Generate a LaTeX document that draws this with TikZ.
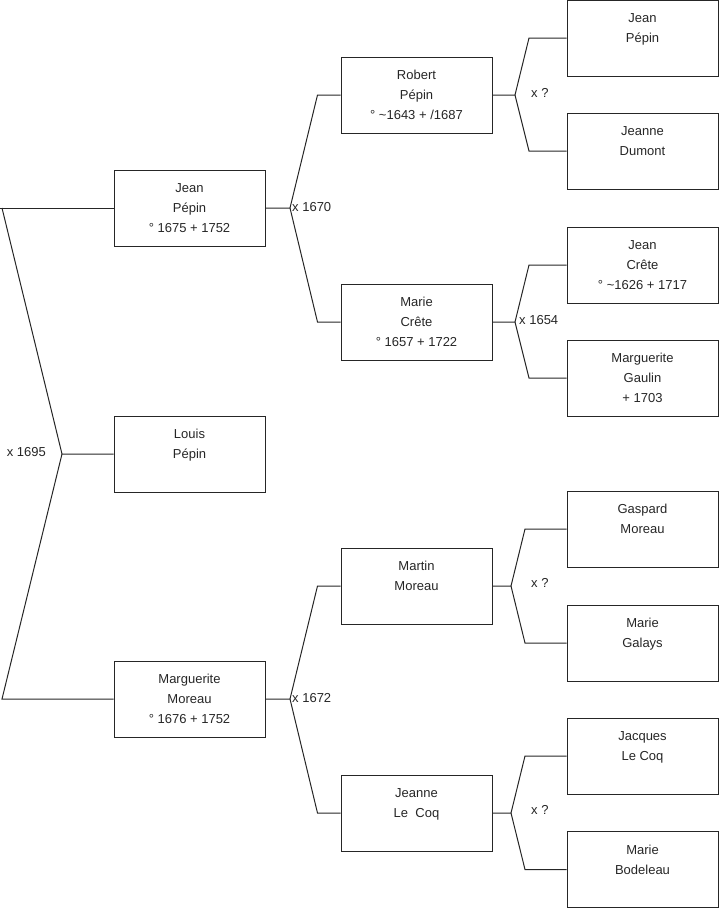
\documentclass[tikz,border=0pt]{standalone}
\usepackage{fontspec}
\setmainfont{Liberation Sans}
\usepackage{tikz}
\usetikzlibrary{positioning}

\tikzset{
    personne/.style={draw=black!85, line width=1pt, minimum width=151pt, minimum height=76pt,
        inner sep=0pt, align=center, text=black!85, font=\fontsize{13}{20}\selectfont},
    union/.style={anchor=west, inner sep=0pt, text=black!85, font=\fontsize{13}{15}\selectfont},
    lien/.style={draw=black!85, line width=1pt}
}

\begin{document}
\begin{tikzpicture}[x=1pt, y=-1pt]
    % paramètres
    \def\L{719}   % largeur
    \def\H{908}   % hauteur
    \def\D{23}    % retour horizontal avant une case

    \useasboundingbox (0,0) rectangle (\L,\H);

    % génération 1
    \node[personne] (jeanP)   at (189.5,208) {Jean\\Pépin\\° 1675 + 1752};
    \node[personne] (louis)   at (189.5,454) {Louis\\Pépin\\\mbox{}};
    \node[personne] (margM)   at (189.5,699) {Marguerite\\Moreau\\° 1676 + 1752};

    % génération 2
    \node[personne] (robert)  at (416.5,95)  {Robert\\Pépin\\° \textasciitilde1643 + /1687};
    \node[personne] (marieC)  at (416.5,322) {Marie\\Crête\\° 1657 + 1722};
    \node[personne] (martin)  at (416.5,586) {Martin\\Moreau\\\mbox{}};
    \node[personne] (jeanneL) at (416.5,813) {Jeanne\\Le\ \ Coq\\\mbox{}};

    % génération 3
    \node[personne] (jeanP2)  at (642.5,38)  {Jean\\Pépin\\\mbox{}};
    \node[personne] (jeanneD) at (642.5,151) {Jeanne\\Dumont\\\mbox{}};
    \node[personne] (jeanC)   at (642.5,265) {Jean\\Crête\\° \textasciitilde1626 + 1717};
    \node[personne] (margG)   at (642.5,378) {Marguerite\\Gaulin\\+ 1703};
    \node[personne] (gaspard) at (642.5,529) {Gaspard\\Moreau\\\mbox{}};
    \node[personne] (marieG)  at (642.5,643) {Marie\\Galays\\\mbox{}};
    \node[personne] (jacques) at (642.5,756) {Jacques\\Le Coq\\\mbox{}};
    \node[personne] (marieB)  at (642.5,869.5) {Marie\\Bodeleau\\\mbox{}};

    % fourches
    \coordinate (f0) at (62,454);
    \coordinate (f1) at (290,208);
    \coordinate (f2) at (290,699);
    \coordinate (f3) at (515,95);
    \coordinate (f4) at (515,322);
    \coordinate (f5) at (511,586);
    \coordinate (f6) at (511,813);

    % racine
    \draw[lien] (jeanP.west) -- (0,208);
    \draw[lien] (2,208) -- (f0) -- (louis.west);
    \draw[lien] (f0) -- (2,699) -- (margM.west);
    \node[union, anchor=east] (u0) at (46,452) {x 1695};

    % parents
    \draw[lien] (jeanP.east) -- (f1) -- ([xshift=-\D]robert.west) -- (robert.west);
    \draw[lien] (f1) -- ([xshift=-\D]marieC.west) -- (marieC.west);
    \node[union] (u1) at (292,207) {x 1670};
    \draw[lien] (margM.east) -- (f2) -- ([xshift=-\D]martin.west) -- (martin.west);
    \draw[lien] (f2) -- ([xshift=-\D]jeanneL.west) -- (jeanneL.west);
    \node[union] (u2) at (292,698) {x 1672};

    % grands-parents
    \draw[lien] (robert.east) -- (f3) -- (529,38) -- (jeanP2.west);
    \draw[lien] (f3) -- (529,151) -- (jeanneD.west);
    \node[union] (u3) at (531,93) {x ?};
    \draw[lien] (marieC.east) -- (f4) -- (529,265) -- (jeanC.west);
    \draw[lien] (f4) -- (529,378) -- (margG.west);
    \node[union] (u4) at (519,320) {x 1654};
    \draw[lien] (martin.east) -- (f5) -- (525,529) -- (gaspard.west);
    \draw[lien] (f5) -- (525,643) -- (marieG.west);
    \node[union] (u5) at (531,583) {x ?};
    \draw[lien] (jeanneL.east) -- (f6) -- (525,756) -- (jacques.west);
    \draw[lien] (f6) -- (525,869.5) -- (marieB.west);
    \node[union] (u6) at (531,810) {x ?};
\end{tikzpicture}
\end{document}
